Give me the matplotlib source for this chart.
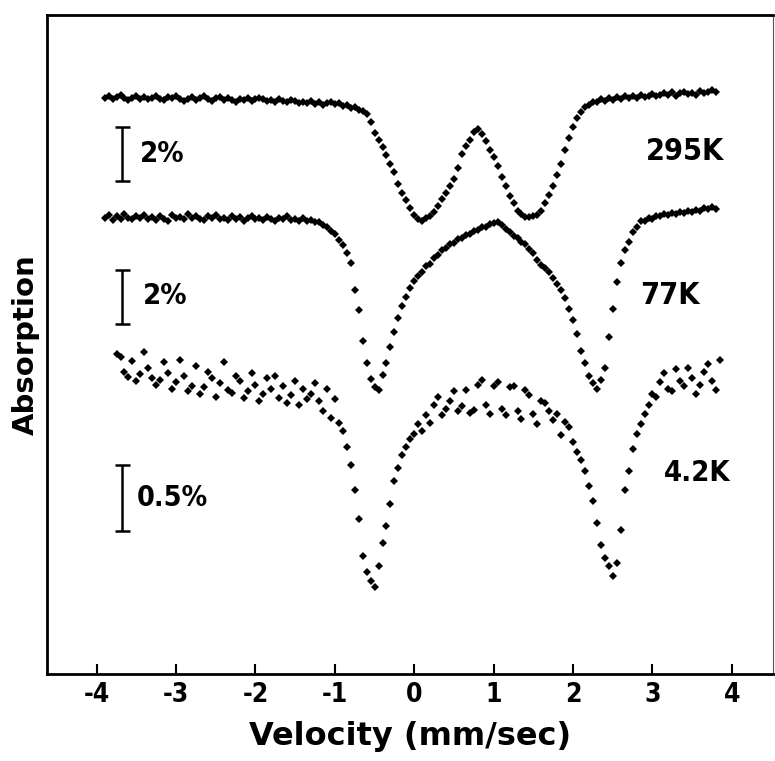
import numpy as np
import matplotlib
matplotlib.use("Agg")
import matplotlib.pyplot as plt
from matplotlib.font_manager import FontProperties

# ---------------- data ----------------
# velocity channels (mm/s): start and step of the uniform velocity scan
v0_hi, dv = -3.90, 0.05
v0_lo = -3.75

# absorption in % relative to the left baseline of each spectrum
abs_295K = [
    0.05, -0.03, 0.08, 0.00, -0.06, 0.04, 0.10, 0.02, -0.04, 0.06,
    0.00, 0.09, 0.03, -0.05, 0.07, 0.12, 0.01, 0.05, -0.02, 0.08,
    0.14, 0.06, 0.01, 0.10, 0.04, -0.02, 0.09, 0.13, 0.05, 0.00,
    0.12, 0.03, 0.10, 0.17, 0.06, 0.11, 0.02, 0.14, 0.08, 0.05,
    0.09, 0.16, 0.11, 0.20, 0.08, 0.14, 0.18, 0.10, 0.15, 0.21,
    0.17, 0.23, 0.14, 0.25, 0.19, 0.28, 0.22, 0.18, 0.27, 0.24,
    0.32, 0.30, 0.39, 0.38, 0.47, 0.52, 0.62, 0.93, 1.32, 1.58,
    1.87, 2.15, 2.48, 2.79, 3.22, 3.57, 3.83, 4.12, 4.36, 4.52,
    4.58, 4.49, 4.42, 4.26, 4.05, 3.78, 3.57, 3.31, 3.02, 2.63,
    2.12, 1.83, 1.58, 1.30, 1.20, 1.36, 1.62, 1.95, 2.22, 2.55,
    2.97, 3.28, 3.66, 3.93, 4.22, 4.33, 4.44, 4.46, 4.40, 4.37,
    4.22, 3.93, 3.62, 3.30, 2.88, 2.47, 1.98, 1.52, 1.12, 0.78,
    0.55, 0.38, 0.31, 0.19, 0.20, 0.09, 0.14, 0.05, 0.10, 0.01,
    0.06, -0.02, 0.04, -0.05, 0.03, -0.08, 0.01, -0.03, -0.10, -0.02,
    -0.06, -0.14, -0.09, -0.18, -0.05, -0.13, -0.20, -0.11, -0.16, -0.08,
    -0.22, -0.14, -0.19, -0.25, -0.17,
]

abs_77K = [
    0.04, -0.08, 0.10, -0.02, 0.06, -0.10, 0.02, 0.08, -0.05, 0.03,
    -0.06, 0.09, 0.01, 0.12, -0.03, 0.07, 0.14, -0.09, 0.05, 0.00,
    0.08, -0.12, 0.03, -0.04, 0.06, 0.11, -0.02, 0.04, -0.07, 0.09,
    0.02, 0.10, -0.05, 0.07, 0.01, 0.13, 0.04, -0.03, 0.08, 0.05,
    0.11, 0.00, 0.07, 0.15, 0.03, 0.09, -0.02, 0.12, 0.06, 0.14,
    0.05, 0.14, 0.10, 0.18, 0.17, 0.30, 0.36, 0.52, 0.63, 0.87,
    1.05, 1.32, 1.70, 2.70, 3.45, 4.60, 5.40, 6.00, 6.30, 6.40,
    5.85, 5.40, 4.80, 4.25, 3.75, 3.28, 2.95, 2.63, 2.37, 2.18,
    2.02, 1.83, 1.74, 1.53, 1.42, 1.22, 1.15, 1.00, 0.95, 0.81,
    0.78, 0.65, 0.62, 0.50, 0.49, 0.38, 0.37, 0.27, 0.23, 0.17,
    0.28, 0.44, 0.55, 0.72, 0.78, 0.92, 1.01, 1.20, 1.35, 1.60,
    1.77, 1.90, 2.03, 2.25, 2.47, 2.72, 3.00, 3.40, 3.80, 4.35,
    4.95, 5.40, 5.90, 6.15, 6.37, 6.05, 5.60, 4.45, 3.40, 2.40,
    1.72, 1.23, 0.92, 0.55, 0.37, 0.16, 0.14, 0.04, 0.07, -0.04,
    -0.02, -0.10, -0.06, -0.15, -0.11, -0.20, -0.14, -0.24, -0.18, -0.27,
    -0.22, -0.33, -0.28, -0.36, -0.30,
]

abs_4K = [
    -0.08, -0.06, 0.05, 0.09, -0.03, 0.12, 0.07, -0.10, 0.02, 0.10,
    0.15, 0.11, -0.02, 0.06, 0.18, 0.13, -0.04, 0.08, 0.20, 0.16,
    0.01, 0.22, 0.17, 0.05, 0.10, 0.24, 0.14, -0.02, 0.19, 0.21,
    0.08, 0.12, 0.25, 0.20, 0.06, 0.15, 0.27, 0.22, 0.10, 0.18,
    0.08, 0.25, 0.16, 0.29, 0.23, 0.12, 0.30, 0.18, 0.26, 0.22,
    0.14, 0.27, 0.35, 0.18, 0.40, 0.26, 0.44, 0.50, 0.62, 0.76,
    0.95, 1.17, 1.45, 1.57, 1.64, 1.68, 1.52, 1.35, 1.22, 1.05,
    0.88, 0.78, 0.68, 0.62, 0.56, 0.52, 0.45, 0.50, 0.38, 0.44,
    0.30, 0.24, 0.38, 0.33, 0.27, 0.20, 0.35, 0.31, 0.19, 0.36,
    0.34, 0.15, 0.11, 0.30, 0.37, 0.16, 0.13, 0.33, 0.38, 0.17,
    0.16, 0.35, 0.41, 0.19, 0.23, 0.37, 0.45, 0.27, 0.29, 0.35,
    0.42, 0.37, 0.53, 0.43, 0.47, 0.58, 0.66, 0.72, 0.80, 0.92,
    1.03, 1.20, 1.36, 1.46, 1.52, 1.60, 1.50, 1.25, 0.95, 0.80,
    0.64, 0.52, 0.45, 0.37, 0.30, 0.22, 0.24, 0.13, 0.06, 0.18,
    0.20, 0.03, 0.12, 0.16, 0.02, 0.10, 0.22, 0.15, 0.05, -0.01,
    0.12, 0.19, -0.04,
]

temp_labels = ["295K", "77K", "4.2K"]
scale_labels = ["2%", "2%", "0.5%"]
scale_pct = [2.0, 2.0, 0.5]
xticks = [-4, -3, -2, -1, 0, 1, 2, 3, 4]

v_295K = v0_hi + dv * np.arange(len(abs_295K))
v_77K = v0_hi + dv * np.arange(len(abs_77K))
v_4K = v0_lo + dv * np.arange(len(abs_4K))

# ---------------- layout ----------------
plt.rcParams["axes.unicode_minus"] = False


def cond(size):
    return FontProperties(family="DejaVu Sans", weight="bold",
                          stretch="condensed", size=size)


W, H = 775, 761
fig = plt.figure(figsize=(W / 100, H / 100), dpi=100)
L, R, T, B = 47, 773, 15, 674
ax = fig.add_axes([L / W, 1 - B / H, (R - L) / W, (B - T) / H])
ax.set_xlim(-4.626, 4.518)
ax.set_ylim(0, B - T)

# stacking: baseline position and plot units per 1 % absorption
offsets = [577, 457, 309]
unit_per_pct = [27, 27, 132]
msizes = [4.0, 4.0, 3.8]
series = [(v_295K, abs_295K), (v_77K, abs_77K), (v_4K, abs_4K)]

for (v, a), off, k, ms in zip(series, offsets, unit_per_pct, msizes):
    y = off - np.asarray(a) * k
    ax.plot(v, y, linestyle="none", marker="D", markersize=ms,
            color="black", markeredgewidth=0)

# scale bars
bar_x = -3.68
bar_centers = [520.5, 377.5, 176]
text_x = [-3.45, -3.42, -3.49]
text_size = [21, 21, 20.5]
for yc, pct, k, lab, tx, fs in zip(bar_centers, scale_pct, unit_per_pct,
                                   scale_labels, text_x, text_size):
    half = pct * k / 2
    ax.errorbar([bar_x], [yc], yerr=[half], color="black", elinewidth=1.8,
                capsize=5.4, capthick=1.8, fmt="none")
    ax.text(tx, yc, lab, ha="left", va="center", fontproperties=cond(fs))

# temperature labels
lab_pos = [(3.41, 522), (3.22, 378), (3.56, 201)]
lab_size = [22, 22, 21]
for (lx, ly), lab, fs in zip(lab_pos, temp_labels, lab_size):
    ax.text(lx, ly, lab, ha="center", va="center", fontproperties=cond(fs))

# axes styling
for side in ["left", "bottom", "top"]:
    ax.spines[side].set_linewidth(2.0)
ax.spines["right"].set_linewidth(0.8)
ax.spines["right"].set_color("#555555")
ax.set_yticks([])
ax.set_xticks(xticks)
ax.set_xticklabels([str(t) for t in xticks], fontproperties=cond(19))
ax.tick_params(axis="x", direction="in", length=7, width=1.5, pad=6)

ax.set_xlabel("Velocity (mm/sec)", fontsize=23, fontweight="bold",
              family="DejaVu Sans", labelpad=9)
ax.set_ylabel("Absorption", fontsize=21, fontweight="bold",
              family="DejaVu Sans", labelpad=5)

fig.savefig("out.png", dpi=100)
